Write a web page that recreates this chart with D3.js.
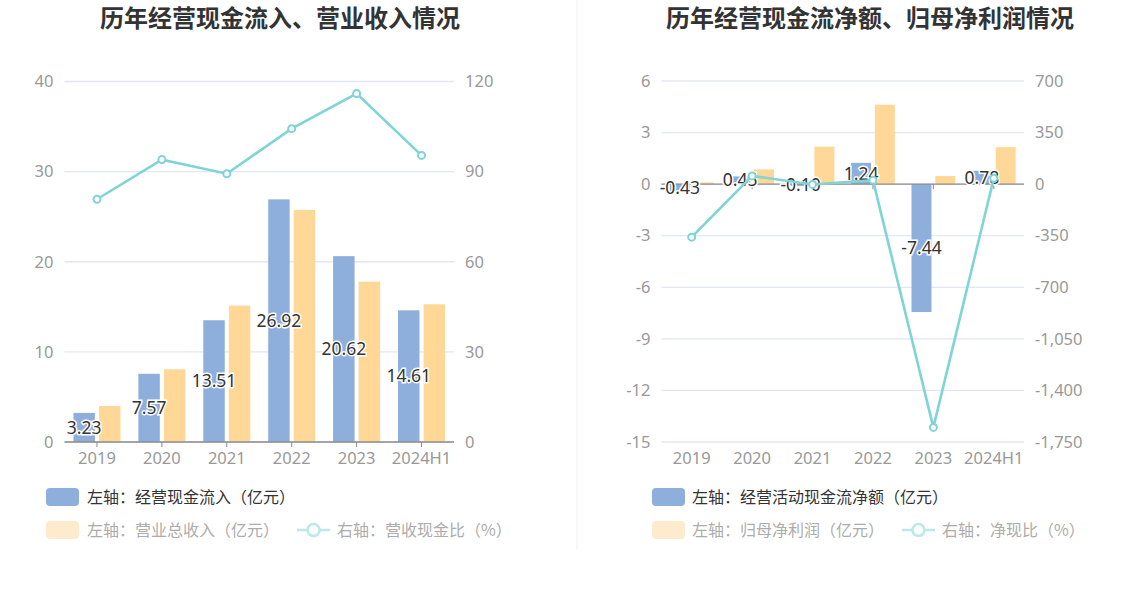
<!DOCTYPE html>
<html>
<head>
<meta charset="utf-8">
<script src="https://cdn.jsdelivr.net/npm/d3@7"></script>
<style>
  body { margin: 0; background: #fff; }
  svg { display: block; font-family: "Noto Sans CJK SC", "Noto Sans", sans-serif; }
</style>
</head>
<body>
<svg id="chart" width="1148" height="589"></svg>
<script>
// categories
const years = ['2019', '2020', '2021', '2022', '2023', '2024H1'];

// left panel: cash inflow / revenue (亿元), ratio (%)
const cashInflow = [3.23, 7.57, 13.51, 26.92, 20.62, 14.61];
const revenue = [4.0, 8.07, 15.14, 25.75, 17.79, 15.28];
const inflowRatio = [80.8, 94.0, 89.3, 104.3, 116.0, 95.4];
const leftTicksA = [0, 10, 20, 30, 40];
const rightTicksA = [0, 30, 60, 90, 120];

// right panel: net operating cash flow / net profit (亿元), ratio (%)
const netCash = [-0.43, 0.45, -0.10, 1.24, -7.44, 0.78];
const netProfit = [0.10, 0.86, 2.18, 4.62, 0.47, 2.15];
const netRatio = [-360, 56, -2, 27, -1651, 40];
const leftTicksB = [-15, -12, -9, -6, -3, 0, 3, 6];
const rightTicksB = [-1750, -1400, -1050, -700, -350, 0, 350, 700];

const BLUE = '#8eaedc';
const ORANGE = '#ffd796';
const CYAN = '#7fd4d7';
const GRID = '#e3e6f3';
const AXIS = '#8c8c8c';
const TICK_TXT = '#999';
const NUM_FONT = '"Noto Sans", "Noto Sans CJK SC", sans-serif';

const loc = d3.formatLocale({decimal: '.', thousands: ',', grouping: [3], currency: ['', ''], minus: '-'});
const fmtComma = loc.format(',');
const fmtPlain = loc.format('d');

const svg = d3.select('#chart');

// divider between the two panels
svg.append('line')
    .attr('x1', 577).attr('x2', 577)
    .attr('y1', 0).attr('y2', 550)
    .attr('stroke', '#f0f0f0');

drawPanel({
    title: '历年经营现金流入、营业收入情况',
    titleX: 280,
    x0: 64.5, x1: 454,
    yTop: 81.5, yBottom: 442,
    leftDomain: [0, 40], leftTicks: leftTicksA,
    rightDomain: [0, 120], rightTicks: rightTicksA, rightFmt: fmtPlain,
    barA: cashInflow, barB: revenue, line: inflowRatio,
    legend: {
        rectX: 46, textX: 87,
        a: '左轴：经营现金流入（亿元）',
        b: '左轴：营业总收入（亿元）',
        lineX: 297, lineTextX: 337,
        c: '右轴：营收现金比（%）'
    }
});

drawPanel({
    title: '历年经营现金流净额、归母净利润情况',
    titleX: 870,
    x0: 661.5, x1: 1024,
    yTop: 81, yBottom: 442,
    leftDomain: [-15, 6], leftTicks: leftTicksB,
    rightDomain: [-1750, 700], rightTicks: rightTicksB, rightFmt: fmtComma,
    barA: netCash, barB: netProfit, line: netRatio,
    legend: {
        rectX: 652, textX: 692,
        a: '左轴：经营活动现金流净额（亿元）',
        b: '左轴：归母净利润（亿元）',
        lineX: 902, lineTextX: 942,
        c: '右轴：净现比（%）'
    }
});

function drawPanel(cfg) {
    let g = svg.append('g');

    g.append('text')
        .attr('x', cfg.titleX).attr('y', 27)
        .attr('text-anchor', 'middle')
        .attr('font-size', 24).attr('font-weight', 'bold')
        .attr('fill', '#333')
        .text(cfg.title);

    let x = d3.scaleBand().domain(years).range([cfg.x0, cfg.x1]);
    let sub = d3.scaleBand().domain(['a', 'b']).range([0, x.bandwidth()])
        .paddingInner(0.16).paddingOuter(0.35);
    let yL = d3.scaleLinear().domain(cfg.leftDomain).range([cfg.yBottom, cfg.yTop]);
    let yR = d3.scaleLinear().domain(cfg.rightDomain).range([cfg.yBottom, cfg.yTop]);

    // grid lines
    g.append('g').selectAll('line')
        .data(cfg.leftTicks)
        .join('line')
        .attr('x1', cfg.x0).attr('x2', cfg.x1)
        .attr('y1', d => yL(d)).attr('y2', d => yL(d))
        .attr('stroke', GRID).attr('stroke-width', 1.3);

    // left ticks
    let axL = d3.axisLeft(yL).tickValues(cfg.leftTicks).tickSize(0).tickPadding(11)
        .tickFormat(fmtPlain);
    g.append('g').attr('transform', `translate(${cfg.x0},0)`).call(axL)
        .call(s => s.select('.domain').remove())
        .selectAll('text').attr('font-size', 16.5).attr('fill', TICK_TXT)
        .attr('font-family', NUM_FONT);

    // right ticks
    let axR = d3.axisRight(yR).tickValues(cfg.rightTicks).tickSize(0).tickPadding(11)
        .tickFormat(cfg.rightFmt);
    g.append('g').attr('transform', `translate(${cfg.x1},0)`).call(axR)
        .call(s => s.select('.domain').remove())
        .selectAll('text').attr('font-size', 16.5).attr('fill', TICK_TXT)
        .attr('font-family', NUM_FONT);

    // category labels at bottom
    g.append('g').selectAll('text')
        .data(years)
        .join('text')
        .attr('x', d => x(d) + x.bandwidth() / 2)
        .attr('y', cfg.yBottom + 22)
        .attr('text-anchor', 'middle')
        .attr('font-size', 16.5).attr('fill', TICK_TXT)
        .attr('font-family', NUM_FONT)
        .text(d => d);

    // bars
    let zero = yL(0);
    let bars = g.append('g');
    bars.selectAll('.barB')
        .data(cfg.barB)
        .join('rect')
        .attr('class', 'barB')
        .attr('x', (d, i) => x(years[i]) + sub('b'))
        .attr('width', sub.bandwidth())
        .attr('y', d => Math.min(yL(d), zero))
        .attr('height', d => Math.abs(yL(d) - zero))
        .attr('fill', ORANGE);
    bars.selectAll('.barA')
        .data(cfg.barA)
        .join('rect')
        .attr('class', 'barA')
        .attr('x', (d, i) => x(years[i]) + sub('a'))
        .attr('width', sub.bandwidth())
        .attr('y', d => Math.min(yL(d), zero))
        .attr('height', d => Math.abs(yL(d) - zero))
        .attr('fill', BLUE);

    // x axis line at zero, ticks at band centres
    g.append('line')
        .attr('x1', cfg.x0).attr('x2', cfg.x1)
        .attr('y1', zero).attr('y2', zero)
        .attr('stroke', AXIS).attr('stroke-width', 1.3);
    g.append('g').selectAll('line')
        .data(years)
        .join('line')
        .attr('x1', d => x(d) + x.bandwidth() / 2).attr('x2', d => x(d) + x.bandwidth() / 2)
        .attr('y1', zero).attr('y2', zero + 5)
        .attr('stroke', AXIS);

    // value labels inside blue bars
    g.append('g').selectAll('text')
        .data(cfg.barA)
        .join('text')
        .attr('x', (d, i) => x(years[i]) + sub('a') + sub.bandwidth() / 2)
        .attr('y', d => (yL(d) + zero) / 2)
        .attr('dy', '0.35em')
        .attr('text-anchor', 'middle')
        .attr('font-size', 17.5)
        .attr('font-family', NUM_FONT)
        .attr('fill', '#333')
        .attr('stroke', '#fff').attr('stroke-width', 3)
        .attr('paint-order', 'stroke')
        .text(d => d.toFixed(2));

    // ratio line
    let cx = (d, i) => x(years[i]) + x.bandwidth() / 2;
    let line = d3.line().x(cx).y(d => yR(d));
    g.append('path')
        .datum(cfg.line)
        .attr('d', line)
        .attr('fill', 'none')
        .attr('stroke', CYAN).attr('stroke-width', 2.6);
    g.append('g').selectAll('circle')
        .data(cfg.line)
        .join('circle')
        .attr('cx', cx).attr('cy', d => yR(d))
        .attr('r', 3.5)
        .attr('fill', '#fff')
        .attr('stroke', CYAN).attr('stroke-width', 2);

    // legend
    let lg = cfg.legend;
    let leg = g.append('g').attr('font-size', 16);
    leg.append('rect')
        .attr('x', lg.rectX).attr('y', 488).attr('width', 33).attr('height', 18)
        .attr('rx', 4).attr('fill', BLUE);
    leg.append('text')
        .attr('x', lg.textX).attr('y', 497).attr('dy', '0.35em')
        .attr('fill', '#333').text(lg.a);
    leg.append('rect')
        .attr('x', lg.rectX).attr('y', 521).attr('width', 33).attr('height', 18)
        .attr('rx', 4).attr('fill', '#feebcd');
    leg.append('text')
        .attr('x', lg.textX).attr('y', 530).attr('dy', '0.35em')
        .attr('fill', '#acacac').text(lg.b);
    leg.append('line')
        .attr('x1', lg.lineX).attr('x2', lg.lineX + 33)
        .attr('y1', 530).attr('y2', 530)
        .attr('stroke', '#bde8ea').attr('stroke-width', 2.5);
    leg.append('circle')
        .attr('cx', lg.lineX + 16.5).attr('cy', 530).attr('r', 6)
        .attr('fill', '#fff')
        .attr('stroke', '#bde8ea').attr('stroke-width', 2.5);
    leg.append('text')
        .attr('x', lg.lineTextX).attr('y', 530).attr('dy', '0.35em')
        .attr('fill', '#acacac').text(lg.c);
}
</script>
</body>
</html>
